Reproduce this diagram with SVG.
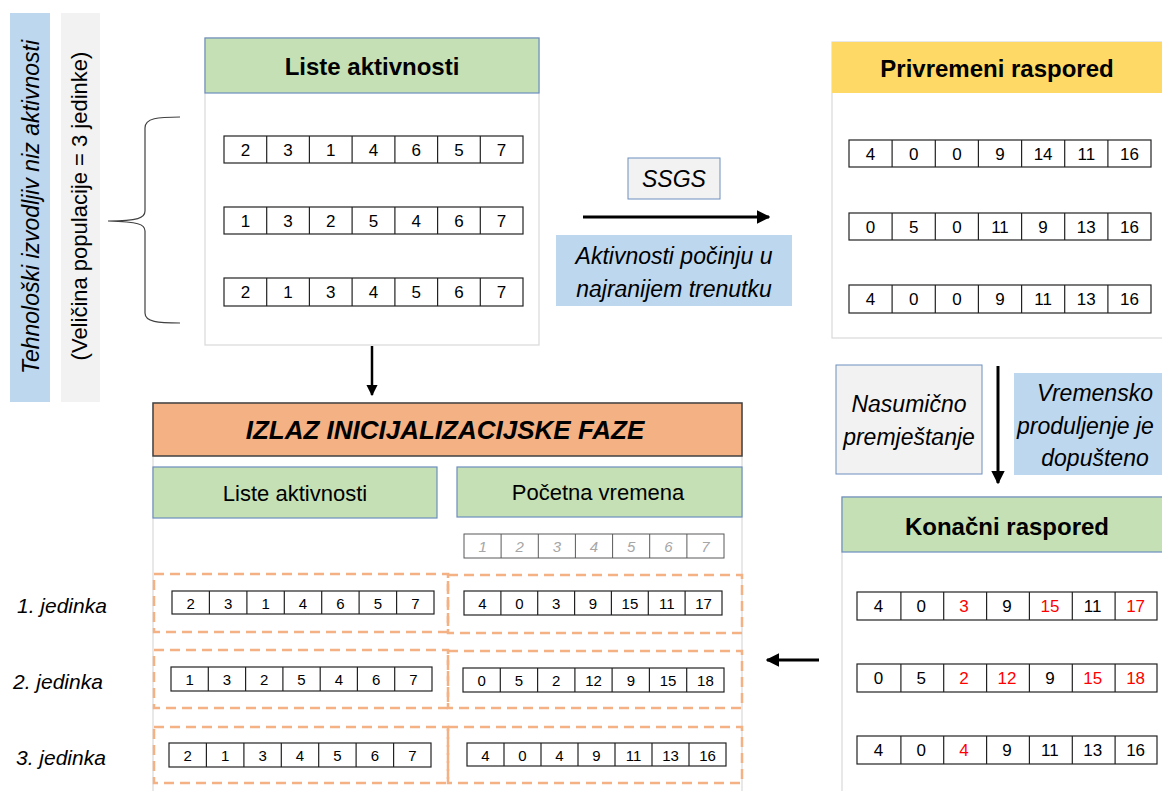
<svg xmlns="http://www.w3.org/2000/svg" width="1162" height="791" viewBox="0 0 1162 791">
<style>
text{font-family:"Liberation Sans",Arial,sans-serif;fill:#000}
.c{text-anchor:middle;dominant-baseline:central}
.cell{fill:#fff;stroke:#222;stroke-width:1.2}
.div{stroke:#222;stroke-width:1.2;fill:none}
.n17{font-size:17px}
.n15{font-size:15px}
.hb{font-size:24px;font-weight:bold}
.it{font-style:italic;font-size:23px}
.sub{font-size:22px}
.panel{fill:#fff;stroke:#d9d9d9;stroke-width:1.2}
.green{fill:#c5e0b4;stroke:#6c8ebf;stroke-width:1.2}
.blue{fill:#bdd7ee}
.gray{fill:#f2f2f2;stroke:#6c8ebf;stroke-width:1}
.dash{fill:none;stroke:#f4b183;stroke-width:2.5;stroke-dasharray:10 6}
.red{fill:#ff0000}
.idx{fill:#a6a6a6;font-style:italic}
.arr{stroke:#000;stroke-width:3;fill:none;marker-end:url(#ah)}
</style>
<defs>
<marker id="ah" viewBox="0 0 10 10" refX="9" refY="5" markerWidth="4.5" markerHeight="4.5" orient="auto">
<path d="M0,0 L10,5 L0,10 z" fill="#000"/>
</marker>
</defs>
<rect width="1162" height="791" fill="#fff"/>

<g id="side-labels">
<rect x="10" y="13" width="40" height="389" class="blue"/>
<text class="c" style="font-style:italic;font-size:23px" transform="translate(31,207) rotate(-90)">Tehnološki izvodljiv niz aktivnosti</text>
<rect x="61" y="13" width="39" height="389" fill="#f2f2f2"/>
<text class="c" style="font-size:22px" transform="translate(79,206) rotate(-90)">(Veličina populacije = 3 jedinke)</text>
</g>

<g id="brace">
<path d="M180,117 C158,117 145,118 145,128 L145,211 C145,218 138,221 108,221 C138,222 145,224 145,231 L145,313 C145,322 158,323 180,323" fill="none" stroke="#404040" stroke-width="1.2"/>
</g>

<g id="liste-aktivnosti">
<rect x="205" y="38" width="334" height="307" class="panel"/>
<rect x="205" y="38" width="334" height="55" class="green"/>
<text class="c hb" x="372" y="66">Liste aktivnosti</text>
<g class="n17">
<rect x="224" y="136" width="299" height="27" class="cell"/>
<path class="div" d="M266.7,136v27M309.4,136v27M352.1,136v27M394.9,136v27M437.6,136v27M480.3,136v27"/>
<text class="c" x="245.4" y="150">2</text><text class="c" x="288.1" y="150">3</text><text class="c" x="330.8" y="150">1</text><text class="c" x="373.5" y="150">4</text><text class="c" x="416.3" y="150">6</text><text class="c" x="459" y="150">5</text><text class="c" x="501.6" y="150">7</text>
<rect x="224" y="207" width="299" height="27" class="cell"/>
<path class="div" d="M266.7,207v27M309.4,207v27M352.1,207v27M394.9,207v27M437.6,207v27M480.3,207v27"/>
<text class="c" x="245.4" y="221">1</text><text class="c" x="288.1" y="221">3</text><text class="c" x="330.8" y="221">2</text><text class="c" x="373.5" y="221">5</text><text class="c" x="416.3" y="221">4</text><text class="c" x="459" y="221">6</text><text class="c" x="501.6" y="221">7</text>
<rect x="224" y="278" width="299" height="28" class="cell"/>
<path class="div" d="M266.7,278v28M309.4,278v28M352.1,278v28M394.9,278v28M437.6,278v28M480.3,278v28"/>
<text class="c" x="245.4" y="292">2</text><text class="c" x="288.1" y="292">1</text><text class="c" x="330.8" y="292">3</text><text class="c" x="373.5" y="292">4</text><text class="c" x="416.3" y="292">5</text><text class="c" x="459" y="292">6</text><text class="c" x="501.6" y="292">7</text>
</g>
</g>

<g id="ssgs">
<rect x="628" y="158" width="92" height="41" class="gray"/>
<text class="c it" x="674" y="179">SSGS</text>
</g>
<g id="aktivnosti-label">
<rect x="556" y="235" width="236" height="71" class="blue"/>
<text class="c it" x="674" y="256">Aktivnosti počinju u</text>
<text class="c it" x="674" y="289">najranijem trenutku</text>
</g>

<g id="privremeni-raspored">
<rect x="832" y="42" width="340" height="296" class="panel"/>
<rect x="832" y="42" width="340" height="51" fill="#ffd966"/>
<text class="c hb" x="997" y="68">Privremeni raspored</text>
<g class="n17">
<rect x="849" y="140" width="302" height="27" class="cell"/>
<path class="div" d="M892.1,140v27M935.3,140v27M978.4,140v27M1021.6,140v27M1064.7,140v27M1107.9,140v27"/>
<text class="c" x="870.6" y="154">4</text><text class="c" x="913.7" y="154">0</text><text class="c" x="956.9" y="154">0</text><text class="c" x="1000" y="154">9</text><text class="c" x="1043.1" y="154">14</text><text class="c" x="1086.3" y="154">11</text><text class="c" x="1129.4" y="154">16</text>
<rect x="849" y="213" width="302" height="27" class="cell"/>
<path class="div" d="M892.1,213v27M935.3,213v27M978.4,213v27M1021.6,213v27M1064.7,213v27M1107.9,213v27"/>
<text class="c" x="870.6" y="227">0</text><text class="c" x="913.7" y="227">5</text><text class="c" x="956.9" y="227">0</text><text class="c" x="1000" y="227">11</text><text class="c" x="1043.1" y="227">9</text><text class="c" x="1086.3" y="227">13</text><text class="c" x="1129.4" y="227">16</text>
<rect x="849" y="285" width="302" height="28" class="cell"/>
<path class="div" d="M892.1,285v28M935.3,285v28M978.4,285v28M1021.6,285v28M1064.7,285v28M1107.9,285v28"/>
<text class="c" x="870.6" y="299">4</text><text class="c" x="913.7" y="299">0</text><text class="c" x="956.9" y="299">0</text><text class="c" x="1000" y="299">9</text><text class="c" x="1043.1" y="299">11</text><text class="c" x="1086.3" y="299">13</text><text class="c" x="1129.4" y="299">16</text>
</g>
</g>

<g id="nasumicno">
<rect x="836" y="365" width="146" height="109" class="gray"/>
<text class="c it" x="909" y="404">Nasumično</text>
<text class="c it" x="909" y="437">premještanje</text>
</g>
<g id="vremensko">
<rect x="1014" y="373" width="160" height="102" class="blue"/>
<text class="c it" x="1095" y="393">Vremensko</text>
<text class="it" x="1017" y="434">produljenje je</text>
<text class="c it" x="1095" y="458">dopušteno</text>
</g>

<g id="konacni-raspored">
<rect x="842" y="497" width="330" height="310" class="panel"/>
<rect x="842" y="497" width="330" height="55" class="green"/>
<text class="c hb" x="1007" y="526">Konačni raspored</text>
<g class="n17">
<rect x="857" y="592" width="300" height="28" class="cell"/>
<path class="div" d="M900.9,592v28M943.7,592v28M986.6,592v28M1029.4,592v28M1072.3,592v28M1115.1,592v28"/>
<text class="c" x="878.4" y="606">4</text><text class="c" x="921.3" y="606">0</text><text class="c red" x="964.1" y="606">3</text><text class="c" x="1007" y="606">9</text><text class="c red" x="1049.9" y="606">15</text><text class="c" x="1092.7" y="606">11</text><text class="c red" x="1135.6" y="606">17</text>
<rect x="857" y="664" width="300" height="28" class="cell"/>
<path class="div" d="M900.9,664v28M943.7,664v28M986.6,664v28M1029.4,664v28M1072.3,664v28M1115.1,664v28"/>
<text class="c" x="878.4" y="678">0</text><text class="c" x="921.3" y="678">5</text><text class="c red" x="964.1" y="678">2</text><text class="c red" x="1007" y="678">12</text><text class="c" x="1049.9" y="678">9</text><text class="c red" x="1092.7" y="678">15</text><text class="c red" x="1135.6" y="678">18</text>
<rect x="857" y="736" width="300" height="28" class="cell"/>
<path class="div" d="M900.9,736v28M943.7,736v28M986.6,736v28M1029.4,736v28M1072.3,736v28M1115.1,736v28"/>
<text class="c" x="878.4" y="750">4</text><text class="c" x="921.3" y="750">0</text><text class="c red" x="964.1" y="750">4</text><text class="c" x="1007" y="750">9</text><text class="c" x="1049.9" y="750">11</text><text class="c" x="1092.7" y="750">13</text><text class="c" x="1135.6" y="750">16</text>
</g>
</g>

<g id="izlaz">
<rect x="153" y="403" width="589" height="400" class="panel"/>
<rect x="153" y="403" width="589" height="53" fill="#f4b183" stroke="#404040" stroke-width="1.5"/>
<text class="c" x="445" y="430" style="font-size:26px;font-weight:bold;font-style:italic">IZLAZ INICIJALIZACIJSKE FAZE</text>
<rect x="153" y="467" width="284" height="51" class="green"/>
<text class="c sub" x="295" y="493">Liste aktivnosti</text>
<rect x="457" y="467" width="285" height="50" class="green"/>
<text class="c sub" x="598" y="492">Početna vremena</text>

<g class="n15">
<rect x="464" y="534" width="260" height="24" fill="#fff" stroke="#595959" stroke-width="1"/>
<path d="M501.1,534v24M538.3,534v24M575.4,534v24M612.6,534v24M649.7,534v24M686.9,534v24" stroke="#595959" stroke-width="1"/>
<text class="c idx" x="482.6" y="546">1</text><text class="c idx" x="519.7" y="546">2</text><text class="c idx" x="556.9" y="546">3</text><text class="c idx" x="594" y="546">4</text><text class="c idx" x="631.1" y="546">5</text><text class="c idx" x="668.3" y="546">6</text><text class="c idx" x="705.4" y="546">7</text>
</g>

<rect x="154" y="574" width="294" height="58" class="dash"/>
<rect x="448" y="575" width="294" height="58" class="dash"/>
<rect x="154" y="650" width="294" height="58" class="dash"/>
<rect x="448" y="651" width="294" height="57" class="dash"/>
<rect x="154" y="727" width="294" height="56" class="dash"/>
<rect x="448" y="727" width="294" height="56" class="dash"/>

<g class="n15">
<rect x="172" y="591" width="262" height="23" class="cell"/>
<path class="div" d="M209.4,591v23M246.9,591v23M284.3,591v23M321.7,591v23M359.1,591v23M396.6,591v23"/>
<text class="c" x="190.7" y="603">2</text><text class="c" x="228.1" y="603">3</text><text class="c" x="265.6" y="603">1</text><text class="c" x="303" y="603">4</text><text class="c" x="340.4" y="603">6</text><text class="c" x="377.9" y="603">5</text><text class="c" x="415.3" y="603">7</text>
<rect x="171" y="667" width="261" height="24" class="cell"/>
<path class="div" d="M208.3,667v24M245.6,667v24M282.9,667v24M320.2,667v24M357.4,667v24M394.7,667v24"/>
<text class="c" x="189.6" y="679">1</text><text class="c" x="226.9" y="679">3</text><text class="c" x="264.2" y="679">2</text><text class="c" x="301.5" y="679">5</text><text class="c" x="338.8" y="679">4</text><text class="c" x="376.1" y="679">6</text><text class="c" x="413.4" y="679">7</text>
<rect x="169" y="743" width="262" height="24" class="cell"/>
<path class="div" d="M206.4,743v24M243.9,743v24M281.3,743v24M318.7,743v24M356.1,743v24M393.6,743v24"/>
<text class="c" x="187.7" y="755">2</text><text class="c" x="225.1" y="755">1</text><text class="c" x="262.6" y="755">3</text><text class="c" x="300" y="755">4</text><text class="c" x="337.4" y="755">5</text><text class="c" x="374.9" y="755">6</text><text class="c" x="412.3" y="755">7</text>

<rect x="464" y="591" width="258" height="24" class="cell"/>
<path class="div" d="M500.9,591v24M537.7,591v24M574.6,591v24M611.4,591v24M648.3,591v24M685.1,591v24"/>
<text class="c" x="482.4" y="603">4</text><text class="c" x="519.3" y="603">0</text><text class="c" x="556.1" y="603">3</text><text class="c" x="593" y="603">9</text><text class="c" x="629.9" y="603">15</text><text class="c" x="666.7" y="603">11</text><text class="c" x="703.6" y="603">17</text>
<rect x="463" y="668" width="261" height="24" class="cell"/>
<path class="div" d="M500.3,668v24M537.6,668v24M574.9,668v24M612.1,668v24M649.4,668v24M686.7,668v24"/>
<text class="c" x="481.6" y="680">0</text><text class="c" x="518.9" y="680">5</text><text class="c" x="556.2" y="680">2</text><text class="c" x="593.5" y="680">12</text><text class="c" x="630.8" y="680">9</text><text class="c" x="668.1" y="680">15</text><text class="c" x="705.4" y="680">18</text>
<rect x="467" y="743" width="259" height="23" class="cell"/>
<path class="div" d="M504,743v23M541,743v23M578,743v23M615,743v23M652,743v23M689,743v23"/>
<text class="c" x="485.5" y="755">4</text><text class="c" x="522.5" y="755">0</text><text class="c" x="559.5" y="755">4</text><text class="c" x="596.5" y="755">9</text><text class="c" x="633.5" y="755">11</text><text class="c" x="670.5" y="755">13</text><text class="c" x="707.5" y="755">16</text>
</g>
</g>

<g id="jedinka-labels" style="font-style:italic;font-size:21px">
<text x="17" y="613">1. jedinka</text>
<text x="13" y="689">2. jedinka</text>
<text x="16" y="765">3. jedinka</text>
</g>

<g id="connectors">
<path class="arr" d="M583,217 L769,217"/>
<path class="arr" d="M372,346 L372,395" style="stroke-width:2.5"/>
<path class="arr" d="M998,366 L998,483"/>
<path class="arr" d="M819,660 L767,660"/>
</g>
</svg>
